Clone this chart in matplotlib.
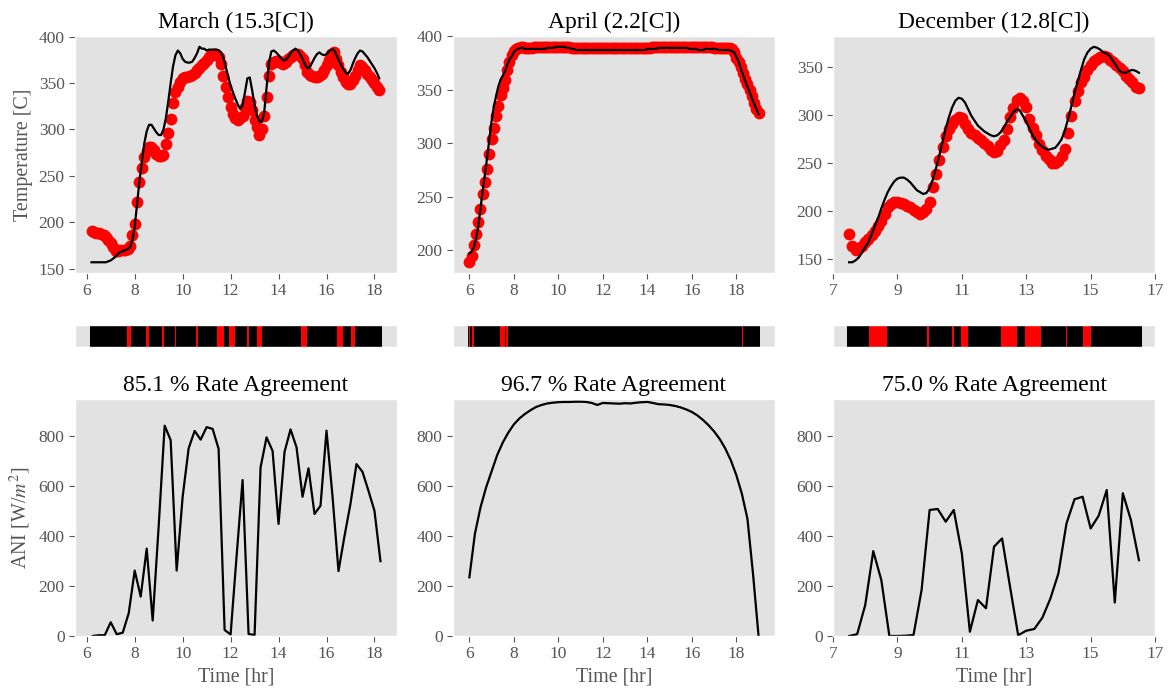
import numpy as np
import matplotlib.pyplot as plt
from matplotlib.ticker import MultipleLocator

plt.style.use('ggplot')
plt.rcParams['font.family'] = ['Liberation Serif', 'DejaVu Serif']
plt.rcParams['mathtext.fontset'] = 'stix'
plt.rcParams['font.size'] = 12
plt.rcParams['axes.grid'] = False
plt.rcParams['axes.facecolor'] = '#e2e2e2'

# --------------------------------------------------
# Receiver temperature: measured (red dots) vs model (black line), 0.1 hr steps
# --------------------------------------------------
mar_t0, mar_t1 = 6.2, 18.2
mar_meas = [
    191, 190, 189, 188, 187, 186, 184, 181, 178, 173,
    169, 169, 170, 170, 170, 171, 175, 186, 198, 222,
    243, 258, 270, 277, 281, 281, 278, 274, 271, 271,
    272, 284, 296, 311, 329, 340, 346, 351, 355, 356,
    357, 358, 359, 361, 364, 366, 369, 372, 375, 378,
    380, 381, 381, 378, 370, 358, 346, 335, 324, 317,
    312, 310, 312, 315, 324, 331, 330, 321, 310, 303,
    294, 301, 314, 335, 358, 371, 373, 374, 374, 372,
    371, 373, 376, 378, 380, 381, 381, 379, 376, 369,
    362, 359, 358, 357, 357, 358, 360, 364, 369, 375,
    381, 383, 376, 369, 362, 356, 351, 349, 349, 353,
    358, 364, 369, 367, 364, 360, 356, 353, 350, 346,
    343]
mar_model = [
    157, 157, 157, 157, 157, 157, 157, 158, 159, 161,
    163, 166, 168, 169, 170, 171, 173, 180, 195, 220,
    245, 265, 285, 298, 305, 305, 301, 297, 294, 294,
    300, 312, 330, 350, 368, 380, 385, 382, 376, 373,
    372, 372, 373, 377, 382, 389, 387, 387, 385, 386,
    386, 386, 386, 385, 383, 377, 367, 357, 347, 340,
    333, 327, 322, 326, 340, 355, 356, 342, 326, 315,
    309, 308, 318, 345, 372, 384, 385, 383, 380, 377,
    374, 375, 378, 382, 385, 387, 385, 381, 376, 370,
    366, 367, 372, 377, 381, 383, 381, 380, 381, 384,
    386, 386, 381, 375, 370, 365, 361, 360, 364, 371,
    377, 382, 385, 384, 381, 378, 374, 370, 366, 361,
    355]

apr_t0, apr_t1 = 6.0, 19.0
apr_meas = [
    189, 195, 205, 215, 227, 239, 253, 264, 276, 290,
    304, 314, 325, 335, 345, 352, 359, 368, 376, 382,
    386, 388, 389, 390, 390, 389, 389, 389, 389, 390,
    390, 390, 390, 390, 390, 390, 390, 390, 390, 390,
    390, 390, 390, 390, 390, 390, 389, 389, 389, 389,
    389, 389, 389, 389, 389, 389, 389, 389, 389, 389,
    389, 389, 389, 389, 389, 389, 389, 389, 389, 389,
    389, 389, 389, 389, 389, 389, 389, 389, 389, 389,
    389, 389, 390, 390, 390, 390, 390, 390, 390, 390,
    390, 390, 390, 390, 390, 390, 390, 390, 390, 390,
    390, 390, 390, 390, 390, 390, 390, 390, 390, 390,
    389, 389, 389, 389, 389, 389, 389, 389, 388, 385,
    380, 376, 371, 366, 360, 355, 350, 344, 338, 332,
    328]
apr_model = [
    197, 199, 203, 211, 223, 239, 256, 271, 287, 304,
    321, 334, 344, 353, 359, 363, 367, 373, 378, 381,
    385, 387, 388, 389, 389, 388, 388, 388, 388, 388,
    388, 388, 388, 388, 388, 389, 389, 389, 389, 390,
    390, 390, 390, 390, 389, 389, 388, 388, 387, 387,
    387, 387, 387, 387, 387, 387, 387, 387, 387, 387,
    387, 387, 387, 387, 387, 387, 387, 387, 387, 387,
    387, 387, 387, 387, 387, 387, 387, 387, 387, 387,
    388, 388, 388, 388, 388, 389, 389, 389, 389, 389,
    389, 389, 389, 389, 389, 389, 389, 389, 389, 388,
    388, 388, 388, 387, 387, 387, 388, 388, 388, 388,
    388, 388, 387, 387, 387, 387, 387, 387, 386, 385,
    381, 376, 370, 364, 358, 353, 348, 342, 337, 332,
    327]

dec_t0, dec_t1 = 7.5, 16.5
dec_meas = [
    176, 164, 160, 162, 164, 168, 171, 175, 180, 185,
    190, 197, 204, 208, 210, 210, 209, 208, 206, 204,
    201, 199, 197, 199, 202, 210, 225, 239, 253, 267,
    278, 286, 291, 295, 298, 297, 291, 286, 281, 279,
    276, 274, 271, 268, 264, 262, 263, 269, 274, 286,
    298, 307, 316, 318, 315, 308, 296, 287, 279, 270,
    264, 258, 254, 250, 250, 252, 257, 265, 281, 299,
    315, 325, 334, 340, 347, 352, 356, 358, 360, 361,
    360, 357, 355, 352, 349, 346, 341, 338, 334, 329,
    328]
dec_model = [
    147, 147, 149, 152, 157, 163, 168, 176, 185, 193,
    203, 212, 220, 226, 231, 234, 235, 235, 233, 230,
    226, 222, 220, 218, 219, 224, 233, 245, 258, 272,
    286, 298, 308, 315, 318, 317, 313, 306, 299, 294,
    289, 286, 283, 281, 279, 278, 279, 282, 287, 293,
    298, 303, 306, 305, 299, 293, 286, 279, 274, 270,
    267, 265, 264, 265, 266, 270, 275, 284, 296, 309,
    323, 335, 347, 358, 365, 369, 371, 370, 368, 365,
    364, 361, 356, 351, 346, 344, 344, 346, 347, 346,
    344]

# --------------------------------------------------
# Periods where measured and modelled rates disagree [hr]
# --------------------------------------------------
mar_miss = [(7.68, 7.84), (8.46, 8.59), (9.15, 9.21), (9.69, 9.71),
            (10.57, 10.62), (11.45, 11.72), (11.95, 12.17), (12.42, 12.44),
            (12.70, 12.78), (13.11, 13.30), (13.69, 13.70), (14.95, 15.17),
            (16.45, 16.69), (17.03, 17.19)]
apr_miss = [(5.98, 6.03), (6.10, 6.22), (7.39, 7.58), (7.63, 7.67),
            (7.71, 7.73), (8.015, 8.025), (18.26, 18.31)]
dec_miss = [(8.11, 8.67), (9.93, 9.99), (10.70, 10.75), (10.96, 11.20),
            (12.23, 12.72), (12.97, 13.46), (14.25, 14.28), (14.77, 15.02)]

# --------------------------------------------------
# Aperture normal irradiance, 0.25 hr steps
# --------------------------------------------------
mar_ani_t0 = 6.25
mar_ani = [0, 3, 3, 55, 7, 13, 91, 262, 158, 350,
           62, 440, 843, 785, 262, 558, 752, 822, 787, 837,
           830, 750, 24, 6, 320, 625, 8, 4, 676, 796,
           742, 449, 738, 828, 756, 558, 672, 489, 522, 823,
           560, 260, 400, 530, 689, 658, 582, 502, 300]
apr_ani_t0 = 6.0
apr_ani = [235, 410, 515, 595, 660, 725, 775, 815, 848, 872,
           890, 905, 918, 926, 932, 935, 937, 938, 938, 939,
           939, 938, 934, 926, 934, 933, 932, 931, 933, 932,
           935, 937, 938, 934, 929, 928, 926, 922, 916, 908,
           898, 884, 866, 845, 820, 790, 752, 705, 645, 570,
           470, 250, 0]
dec_ani_t0 = 7.5
dec_ani = [0, 7, 124, 340, 224, 0, 0, 1, 4, 184,
           505, 509, 458, 505, 331, 17, 144, 111, 358, 391,
           195, 3, 21, 28, 73, 150, 251, 451, 548, 558,
           431, 482, 585, 134, 572, 465, 304]

titles = ['March (15.3[C])', 'April (2.2[C])', 'December (12.8[C])']
rate_titles = ['85.1 % Rate Agreement', '96.7 % Rate Agreement',
               '75.0 % Rate Agreement']

panels = [
    (mar_t0, mar_meas, mar_model, mar_miss, mar_ani_t0, mar_ani),
    (apr_t0, apr_meas, apr_model, apr_miss, apr_ani_t0, apr_ani),
    (dec_t0, dec_meas, dec_model, dec_miss, dec_ani_t0, dec_ani),
]

fig = plt.figure(figsize=(11.68, 6.93), dpi=100)
lefts = [0.0642, 0.3878, 0.7132]
width = 0.2757
strip_pad = 0.08  # half a sample either side of the strip

for j, (t0, meas, model, miss, ani_t0, ani) in enumerate(panels):
    t = t0 + 0.1 * np.arange(len(meas))
    t_ani = ani_t0 + 0.25 * np.arange(len(ani))

    ax = fig.add_axes([lefts[j], 0.606, width, 0.342])
    ax_s = fig.add_axes([lefts[j], 0.4993, width, 0.0317], sharex=ax)
    ax_b = fig.add_axes([lefts[j], 0.0823, width, 0.342], sharex=ax)

    # temperature
    ax.plot(t, meas, 'o', color='red', markersize=8.5, markeredgewidth=0)
    ax.plot(t, model, color='black', linewidth=1.6)
    ax.set_title(titles[j], fontsize=17)
    ax.yaxis.set_major_locator(MultipleLocator(50))

    # agreement strip
    s0 = min(t[0], t_ani[0]) - strip_pad
    s1 = max(t[-1], t_ani[-1]) + strip_pad
    ax_s.broken_barh([(s0, s1 - s0)], (0, 1), facecolor='black')
    ax_s.broken_barh([(a, b - a) for a, b in miss], (0, 1),
                     facecolor='red', edgecolor='none')
    ax_s.set_ylim(0, 1)
    ax_s.set_yticks([])
    ax_s.tick_params(bottom=False, labelbottom=False)

    # irradiance
    ax_b.plot(t_ani, ani, color='black', linewidth=1.6)
    ax_b.set_title(rate_titles[j], fontsize=17)
    ax_b.set_ylim(0, 950)
    ax_b.yaxis.set_major_locator(MultipleLocator(200))
    ax_b.set_xlabel('Time [hr]', fontsize=14.4)

    if j == 2:
        ax.set_xlim(7, 17)
        ax.set_xticks(np.arange(7, 18, 2))
    else:
        ax.xaxis.set_major_locator(MultipleLocator(2))

    for a in (ax, ax_b):
        a.tick_params(labelsize=12.5, colors='#555555', length=4)
        a.tick_params(labelbottom=True)

    if j == 0:
        ax.set_ylabel('Temperature [C]', fontsize=14.4)
        ax_b.set_ylabel('ANI [W/$m^2$]', fontsize=14.4)

fig.savefig('out.png', dpi=100)
